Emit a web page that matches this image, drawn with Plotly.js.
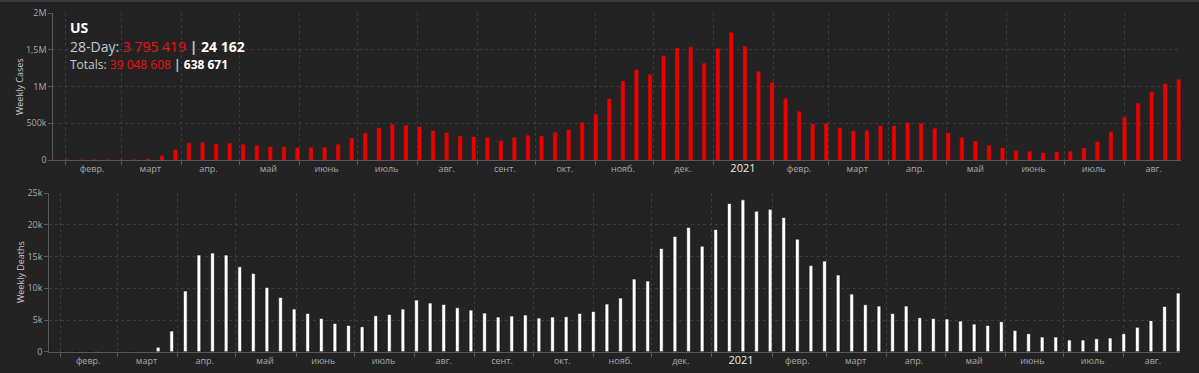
<!DOCTYPE html>
<html>
<head>
<meta charset="utf-8">
<script src="https://cdn.plot.ly/plotly-3.0.1.min.js"></script>
<style>
html,body{margin:0;padding:0;background:#232323;}
#chart{width:1199px;height:373px;}
</style>
</head>
<body>
<div id="chart"></div>
<script>
// Weekly dates (week ending Sunday)
const weeks = [
 '2020-01-26',
 '2020-02-02','2020-02-09','2020-02-16','2020-02-23',
 '2020-03-01','2020-03-08','2020-03-15','2020-03-22','2020-03-29',
 '2020-04-05','2020-04-12','2020-04-19','2020-04-26',
 '2020-05-03','2020-05-10','2020-05-17','2020-05-24','2020-05-31',
 '2020-06-07','2020-06-14','2020-06-21','2020-06-28',
 '2020-07-05','2020-07-12','2020-07-19','2020-07-26',
 '2020-08-02','2020-08-09','2020-08-16','2020-08-23','2020-08-30',
 '2020-09-06','2020-09-13','2020-09-20','2020-09-27',
 '2020-10-04','2020-10-11','2020-10-18','2020-10-25',
 '2020-11-01','2020-11-08','2020-11-15','2020-11-22','2020-11-29',
 '2020-12-06','2020-12-13','2020-12-20','2020-12-27',
 '2021-01-03','2021-01-10','2021-01-17','2021-01-24','2021-01-31',
 '2021-02-07','2021-02-14','2021-02-21','2021-02-28',
 '2021-03-07','2021-03-14','2021-03-21','2021-03-28',
 '2021-04-04','2021-04-11','2021-04-18','2021-04-25',
 '2021-05-02','2021-05-09','2021-05-16','2021-05-23','2021-05-30',
 '2021-06-06','2021-06-13','2021-06-20','2021-06-27',
 '2021-07-04','2021-07-11','2021-07-18','2021-07-25',
 '2021-08-01','2021-08-08','2021-08-15','2021-08-22','2021-08-29'
];

const weeklyCases = [
 0,0,0,0,0,0,1000,10000,55000,136000,227000,236000,218000,225000,208000,195000,177000,177000,163000,
 168000,168000,209000,295000,363000,436000,481000,472000,450000,395000,368000,322000,313000,304000,259000,304000,331000,322000,372000,409000,508000,622000,
 831000,1072000,1226000,1162000,1417000,1526000,1535000,1312000,1516000,1734000,1544000,1203000,1053000,835000,658000,486000,495000,436000,391000,399000,463000,463000,
 504000,495000,427000,363000,304000,254000,195000,159000,123000,113000,95000,104000,113000,159000,245000,381000,581000,770000,920000,1035000,1095000
];

const weeklyDeaths = [
 0,0,0,0,0,0,0,50,700,3259,9567,15245,15560,15245,13404,12353,10145,8568,6728,
 6045,5257,4468,4153,3942,5677,5887,6728,8147,7674,7464,6938,6571,6097,5467,5625,5782,5310,5467,5520,6045,6360,
 7517,8463,11460,11144,16293,18185,19604,16661,19289,23389,23967,22180,22495,21181,17765,13613,14296,12090,9093,7412,7202,6045,
 7202,5362,5257,5152,4836,4362,4153,4731,3364,2838,2313,2313,1840,1840,2050,2155,2838,3850,4900,7150,9250
];

const monthStarts = [
 '2020-02-01','2020-03-01','2020-04-01','2020-05-01','2020-06-01','2020-07-01','2020-08-01','2020-09-01',
 '2020-10-01','2020-11-01','2020-12-01','2021-01-01','2021-02-01','2021-03-01','2021-04-01','2021-05-01',
 '2021-06-01','2021-07-01','2021-08-01'
];
const monthMids = [
 '2020-02-15','2020-03-16','2020-04-15','2020-05-16','2020-06-15','2020-07-16','2020-08-16','2020-09-15',
 '2020-10-16','2020-11-15','2020-12-16','2021-01-16','2021-02-14','2021-03-16','2021-04-15','2021-05-16',
 '2021-06-15','2021-07-16','2021-08-16'
];
const monthLabels = [
 'февр.','март','апр.','май','июнь','июль','авг.','сент.','окт.','нояб.','дек.',
 '<span style="color:#eeeeee;font-size:11px">2021</span>',
 'февр.','март','апр.','май','июнь','июль','авг.'
];

const casesTickVals = [0, 500000, 1000000, 1500000, 2000000];
const casesTickText = ['0', '500k', '1M', '1,5M', '2M'];
const deathsTickVals = [0, 5000, 10000, 15000, 20000, 25000];
const deathsTickText = ['0', '5k', '10k', '15k', '20k', '25k'];

const W = 1199, H = 373;
const px = v => v / W;
const py = v => 1 - v / H;
const DAY = 86400000;

const traces = [
 {
  type: 'bar', x: weeks, y: weeklyCases, xaxis: 'x', yaxis: 'y',
  width: 1.7 * DAY,
  marker: {color: '#ee0000', line: {color: '#ee0000', width: 0.6}},
  hoverinfo: 'x+y'
 },
 {
  type: 'bar', x: weeks, y: weeklyDeaths, xaxis: 'x2', yaxis: 'y2',
  width: 1.9 * DAY,
  marker: {color: '#ffffff', line: {color: '#111111', width: 0.6}},
  hoverinfo: 'x+y'
 }
];

const fontFam = '"Open Sans", "Noto Sans", sans-serif';

function xAxis(domain, anchor) {
  return {
    type: 'date',
    domain: domain,
    anchor: anchor,
    range: ['2020-01-26', '2021-08-30'],
    tickmode: 'array',
    tickvals: monthMids,
    ticktext: monthLabels,
    ticks: '',
    showgrid: false,
    showline: true,
    linecolor: '#5a5a5a',
    linewidth: 1,
    zeroline: false,
    tickfont: {family: fontFam, size: 9, color: '#a8a8a8'},
    minor: {
      tickmode: 'array',
      tickvals: monthStarts,
      showgrid: true,
      gridcolor: '#3d3d3d',
      griddash: 'dot',
      gridwidth: 1,
      ticks: 'outside',
      ticklen: 4,
      tickcolor: '#5a5a5a'
    },
    fixedrange: true
  };
}

function yAxis(domain, anchor, range, vals, text) {
  return {
    domain: domain,
    anchor: anchor,
    range: range,
    tickmode: 'array',
    tickvals: vals,
    ticktext: text,
    ticks: 'outside',
    ticklen: 4,
    tickcolor: '#5a5a5a',
    showline: true,
    linecolor: '#5a5a5a',
    showgrid: true,
    gridcolor: '#3d3d3d',
    griddash: 'dot',
    zeroline: false,
    tickfont: {family: fontFam, size: 9, color: '#a8a8a8'},
    fixedrange: true
  };
}

const layout = {
  width: W, height: H,
  margin: {l: 0, r: 0, t: 0, b: 0, pad: 0},
  paper_bgcolor: '#232323',
  plot_bgcolor: '#232323',
  showlegend: false,
  bargap: 0,
  xaxis: xAxis([px(53.4), px(1180.7)], 'y'),
  yaxis: yAxis([py(160), py(13.3)], 'x', [0, 2000000], casesTickVals, casesTickText),
  xaxis2: xAxis([px(49.3), px(1180.1)], 'y2'),
  yaxis2: yAxis([py(351.7), py(193.3)], 'x2', [0, 25000], deathsTickVals, deathsTickText),
  shapes: [
    {type: 'line', xref: 'paper', yref: 'paper', x0: 0, x1: 1, y0: py(1), y1: py(1),
     line: {color: '#3a3a3a', width: 2}}
  ],
  annotations: [
    {xref: 'paper', yref: 'paper', x: px(68), y: py(27), xanchor: 'left', yanchor: 'middle',
     showarrow: false, text: '<b>US</b>', font: {family: fontFam, size: 14, color: '#ffffff'}},
    {xref: 'paper', yref: 'paper', x: px(68), y: py(46.5), xanchor: 'left', yanchor: 'middle',
     showarrow: false,
     text: '<span style="color:#c8c8c8">28-Day: </span><span style="color:#ee1111">3 795 419</span><span style="color:#c8c8c8"> <b>|</b> </span><b>24 162</b>',
     font: {family: fontFam, size: 14, color: '#ffffff'}},
    {xref: 'paper', yref: 'paper', x: px(68), y: py(64), xanchor: 'left', yanchor: 'middle',
     showarrow: false,
     text: '<span style="color:#c8c8c8">Totals: </span><span style="color:#ee1111">39 048 608</span><span style="color:#c8c8c8"> <b>|</b> </span><b>638 671</b>',
     font: {family: fontFam, size: 12, color: '#ffffff'}},
    {xref: 'paper', yref: 'paper', x: px(20), y: py(87), xanchor: 'center', yanchor: 'middle',
     showarrow: false, textangle: -90, text: 'Weekly Cases',
     font: {family: fontFam, size: 9, color: '#c8c8c8'}},
    {xref: 'paper', yref: 'paper', x: px(20), y: py(272), xanchor: 'center', yanchor: 'middle',
     showarrow: false, textangle: -90, text: 'Weekly Deaths',
     font: {family: fontFam, size: 9, color: '#c8c8c8'}}
  ]
};

Plotly.newPlot('chart', traces, layout, {displayModeBar: false, staticPlot: true});
</script>
</body>
</html>
